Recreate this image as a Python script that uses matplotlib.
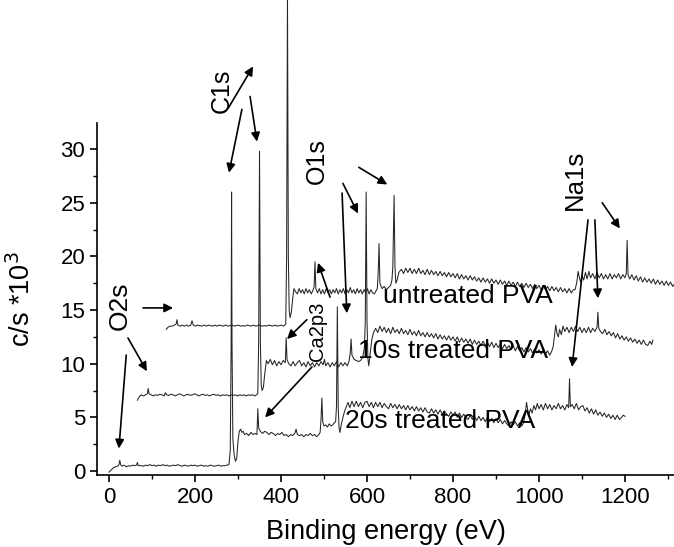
import numpy as np
import matplotlib
matplotlib.use("Agg")
import matplotlib.pyplot as plt
from matplotlib.ticker import MultipleLocator

plt.rcParams['font.family'] = ['Liberation Sans', 'DejaVu Sans']

# XPS survey spectra (binding energy in eV, counts in c/s * 10^3),
# each sample is plotted with its own offset along both axes
spec_20s = [
    (0, -0.1), (5, 0.1), (10, 0.3), (15, 0.4), (20, 0.45), (23, 0.6), (25, 1.0), (27, 0.6),
    (30, 0.45), (35, 0.55), (40, 0.4), (45, 0.5), (50, 0.45), (55, 0.55), (60, 0.5), (64, 0.55),
    (66, 0.8), (68, 0.5), (75, 0.5), (80, 0.45), (85, 0.55), (90, 0.5), (95, 0.6), (100, 0.5),
    (105, 0.55), (110, 0.45), (115, 0.55), (120, 0.5), (125, 0.6), (130, 0.5), (135, 0.55),
    (140, 0.45), (145, 0.5), (150, 0.55), (155, 0.5), (160, 0.6), (165, 0.5), (170, 0.45),
    (175, 0.55), (180, 0.5), (185, 0.45), (190, 0.55), (195, 0.5), (200, 0.55), (205, 0.45),
    (210, 0.5), (215, 0.55), (220, 0.45), (225, 0.5), (230, 0.45), (235, 0.55), (240, 0.5),
    (245, 0.45), (250, 0.5), (255, 0.55), (260, 0.45), (265, 0.5), (270, 0.5), (275, 0.55),
    (279, 0.6), (282, 2.0), (284, 12.0), (285, 26.0), (286, 12.0), (288, 3.0), (291, 1.5),
    (294, 0.9), (297, 1.2), (300, 2.8), (303, 3.7), (306, 3.9), (309, 3.6), (312, 3.7),
    (315, 3.4), (320, 3.5), (325, 3.3), (330, 3.6), (335, 3.4), (340, 3.5), (344, 3.4),
    (346, 5.8), (348, 4.0), (352, 3.7), (357, 3.5), (362, 3.7), (367, 3.6), (372, 3.4),
    (377, 3.6), (382, 3.5), (387, 3.3), (392, 3.5), (397, 3.4), (402, 3.6), (407, 3.3),
    (412, 3.4), (417, 3.2), (422, 3.4), (427, 3.3), (432, 3.5), (435, 3.9), (438, 3.4),
    (443, 3.3), (448, 3.4), (453, 3.2), (458, 3.4), (463, 3.3), (468, 3.5), (473, 3.3),
    (478, 3.4), (483, 3.2), (488, 3.4), (491, 3.6), (493, 4.8), (495, 6.8), (497, 4.6),
    (500, 4.2), (504, 4.3), (508, 4.1), (512, 4.4), (516, 4.2), (520, 4.3), (524, 4.5),
    (527, 4.6), (529, 6.0), (531, 15.3), (533, 6.0), (535, 4.0), (537, 3.6), (540, 4.3),
    (544, 5.0), (548, 5.6), (552, 6.0), (556, 6.4), (560, 5.9), (565, 6.5), (570, 6.0),
    (575, 6.5), (580, 6.0), (585, 6.4), (590, 5.9), (595, 6.4), (600, 6.5), (605, 6.0),
    (610, 6.4), (615, 5.9), (620, 6.4), (625, 6.0), (630, 6.4), (635, 5.9), (640, 6.3),
    (645, 6.0), (650, 5.8), (655, 6.3), (660, 5.9), (665, 6.2), (670, 5.8), (675, 6.2),
    (680, 5.8), (685, 6.1), (690, 5.7), (695, 6.1), (700, 5.7), (705, 6.0), (710, 5.6),
    (715, 6.0), (720, 5.6), (725, 5.9), (730, 5.5), (735, 5.9), (740, 5.5), (745, 5.4),
    (750, 5.8), (755, 5.4), (760, 5.7), (765, 5.3), (770, 5.7), (775, 5.3), (780, 5.6),
    (785, 5.3), (790, 5.1), (795, 5.5), (800, 5.2), (805, 5.5), (810, 5.0), (815, 5.4),
    (820, 5.0), (825, 5.3), (830, 5.0), (835, 4.8), (840, 5.2), (845, 4.8), (850, 5.1),
    (855, 4.7), (860, 5.1), (865, 4.7), (870, 5.0), (875, 4.6), (880, 5.0), (885, 4.6),
    (890, 4.9), (895, 4.5), (900, 4.9), (905, 4.5), (910, 4.8), (915, 4.4), (920, 4.7),
    (925, 4.4), (930, 4.2), (935, 4.6), (940, 4.3), (945, 4.6), (950, 4.2), (955, 4.5),
    (960, 4.2), (964, 4.5), (968, 5.3), (971, 6.4), (974, 5.6), (977, 5.3), (980, 5.8),
    (984, 5.4), (988, 6.1), (992, 5.7), (996, 6.3), (1000, 5.8), (1005, 6.2), (1010, 5.7),
    (1015, 6.3), (1020, 5.8), (1025, 6.2), (1030, 5.7), (1035, 6.1), (1040, 5.8), (1045, 6.3),
    (1050, 5.8), (1055, 6.1), (1060, 5.7), (1065, 6.2), (1069, 5.9), (1071, 8.6), (1073, 6.0),
    (1077, 6.2), (1082, 5.8), (1087, 6.3), (1092, 5.7), (1097, 6.0), (1102, 6.1), (1107, 5.6),
    (1112, 5.9), (1117, 5.4), (1122, 5.8), (1127, 5.3), (1132, 5.7), (1137, 5.2), (1142, 5.5),
    (1147, 5.1), (1152, 5.4), (1157, 5.0), (1162, 5.3), (1167, 4.9), (1172, 5.2), (1177, 4.8),
    (1182, 5.2), (1187, 4.8), (1192, 5.0), (1196, 5.2), (1200, 5.1),
]

spec_10s = [
    (66, 6.6), (70, 6.9), (75, 7.1), (80, 7.0), (85, 7.1), (89, 7.2), (91, 7.7), (93, 7.2),
    (98, 7.1), (103, 7.0), (108, 7.1), (113, 7.05), (118, 7.15), (123, 7.1), (128, 7.0),
    (131, 7.3), (134, 7.1), (139, 7.05), (144, 7.15), (149, 7.1), (154, 7.0), (159, 7.1),
    (164, 7.2), (169, 7.1), (174, 7.0), (179, 7.1), (184, 7.15), (189, 7.05), (194, 7.1),
    (199, 7.2), (204, 7.1), (209, 7.0), (214, 7.1), (219, 7.15), (224, 7.05), (229, 7.1),
    (234, 7.0), (239, 7.1), (244, 7.15), (249, 7.05), (254, 7.1), (259, 7.0), (264, 7.1),
    (269, 7.05), (274, 7.1), (279, 7.0), (284, 7.1), (289, 7.05), (294, 7.1), (299, 7.0),
    (304, 7.1), (309, 7.05), (314, 7.1), (319, 7.0), (324, 7.1), (329, 7.05), (334, 7.1),
    (339, 7.0), (343, 7.1), (346, 7.2), (348, 12.0), (350, 29.8), (352, 12.0), (354, 8.0),
    (356, 7.5), (359, 7.8), (362, 9.0), (366, 10.3), (370, 10.0), (375, 10.4), (380, 9.9),
    (385, 10.3), (390, 9.8), (395, 10.2), (400, 9.9), (405, 10.3), (410, 10.1), (412, 12.4),
    (414, 10.4), (418, 10.0), (423, 9.8), (428, 10.2), (433, 9.8), (438, 10.1), (443, 10.3),
    (448, 9.8), (453, 10.1), (458, 9.7), (463, 10.2), (468, 9.8), (473, 10.1), (478, 9.7),
    (483, 10.1), (488, 9.8), (493, 10.2), (498, 9.9), (501, 10.4), (504, 9.8), (509, 10.1),
    (514, 9.7), (519, 10.1), (524, 9.8), (529, 10.2), (534, 9.7), (539, 10.1), (544, 9.8),
    (549, 10.1), (554, 9.8), (558, 10.2), (561, 11.0), (563, 12.3), (565, 10.8), (570, 10.4),
    (575, 10.3), (580, 10.2), (585, 10.3), (590, 10.6), (594, 11.5), (596, 14.0), (598, 26.0),
    (600, 14.0), (602, 10.5), (604, 9.8), (607, 10.8), (611, 12.2), (615, 12.9), (620, 13.3),
    (625, 12.9), (630, 13.5), (635, 13.0), (640, 13.4), (645, 12.9), (650, 13.3), (655, 12.8),
    (660, 13.4), (665, 12.9), (670, 13.2), (675, 12.8), (680, 13.3), (685, 12.8), (690, 13.1),
    (695, 12.7), (700, 13.2), (705, 12.7), (710, 13.0), (715, 12.6), (720, 13.1), (725, 12.6),
    (730, 12.9), (735, 12.5), (740, 12.9), (745, 12.5), (750, 12.8), (755, 12.4), (760, 12.8),
    (765, 12.3), (770, 12.7), (775, 12.3), (780, 12.6), (785, 12.2), (790, 12.6), (795, 12.2),
    (800, 12.5), (805, 12.1), (810, 12.5), (815, 12.0), (820, 12.4), (825, 12.0), (830, 12.3),
    (835, 11.9), (840, 12.3), (845, 11.8), (850, 12.2), (855, 11.8), (860, 12.1), (865, 11.7),
    (870, 12.1), (875, 11.7), (880, 12.0), (885, 11.6), (890, 12.0), (895, 11.5), (900, 11.9),
    (905, 11.5), (910, 11.8), (915, 11.4), (920, 11.8), (925, 11.4), (930, 11.7), (935, 11.3),
    (940, 11.7), (945, 11.2), (950, 11.6), (955, 11.2), (960, 11.5), (965, 11.1), (970, 11.5),
    (975, 11.1), (980, 11.4), (985, 11.0), (990, 11.4), (995, 11.0), (1000, 11.3), (1005, 10.9),
    (1010, 11.3), (1015, 10.9), (1020, 11.2), (1025, 10.8), (1030, 11.2), (1033, 11.6),
    (1036, 12.6), (1039, 13.6), (1042, 12.8), (1045, 12.5), (1048, 13.2), (1052, 12.7),
    (1056, 13.5), (1060, 13.0), (1065, 13.4), (1070, 12.9), (1075, 13.4), (1080, 13.0),
    (1085, 13.5), (1090, 13.0), (1095, 13.4), (1100, 12.9), (1105, 13.3), (1110, 12.9),
    (1115, 13.4), (1120, 12.9), (1125, 13.3), (1130, 13.0), (1135, 13.4), (1137, 14.8),
    (1139, 13.3), (1143, 13.0), (1148, 12.8), (1153, 13.2), (1158, 12.7), (1163, 13.0),
    (1168, 12.6), (1173, 12.9), (1178, 12.4), (1183, 12.8), (1188, 12.3), (1193, 12.6),
    (1198, 12.2), (1203, 12.5), (1208, 12.1), (1213, 12.4), (1218, 12.0), (1223, 12.3),
    (1228, 11.9), (1233, 12.2), (1238, 11.8), (1243, 12.2), (1248, 11.8), (1253, 11.7),
    (1258, 12.1), (1262, 11.8), (1265, 12.2),
]

spec_untreated = [
    (133, 13.2), (137, 13.4), (142, 13.5), (147, 13.5), (152, 13.6), (156, 13.7), (158, 14.1),
    (160, 13.6), (165, 13.5), (170, 13.6), (175, 13.5), (180, 13.6), (185, 13.5), (190, 13.6),
    (193, 14.0), (196, 13.6), (201, 13.5), (206, 13.6), (211, 13.55), (216, 13.5), (221, 13.6),
    (226, 13.5), (231, 13.6), (236, 13.55), (241, 13.5), (246, 13.6), (251, 13.5), (256, 13.6),
    (261, 13.55), (266, 13.5), (271, 13.6), (276, 13.5), (281, 13.55), (286, 13.6), (291, 13.5),
    (296, 13.55), (301, 13.6), (306, 13.5), (311, 13.55), (316, 13.5), (321, 13.6), (326, 13.55),
    (331, 13.5), (336, 13.6), (341, 13.5), (346, 13.55), (351, 13.6), (356, 13.5), (361, 13.55),
    (366, 13.5), (371, 13.6), (376, 13.55), (381, 13.5), (386, 13.6), (391, 13.5), (396, 13.55),
    (401, 13.6), (406, 13.5), (411, 13.7), (413, 20.0), (415, 44.5), (417, 20.0), (419, 15.0),
    (421, 14.3), (424, 14.8), (427, 16.0), (430, 17.0), (434, 16.7), (438, 16.5), (442, 17.0),
    (446, 16.6), (450, 16.9), (454, 16.5), (458, 17.0), (462, 16.6), (466, 16.9), (470, 16.5),
    (474, 16.8), (477, 17.2), (479, 19.5), (481, 17.0), (485, 16.6), (489, 17.0), (493, 16.5),
    (497, 16.9), (501, 16.5), (505, 17.0), (509, 16.6), (513, 16.9), (517, 16.5), (521, 16.9),
    (525, 16.6), (529, 17.0), (533, 16.5), (537, 16.9), (541, 16.6), (545, 17.0), (549, 16.5),
    (553, 16.9), (557, 16.6), (561, 17.1), (565, 16.6), (569, 16.9), (573, 16.5), (577, 17.0),
    (581, 16.6), (585, 16.9), (589, 16.5), (593, 16.9), (597, 16.6), (601, 17.0), (605, 16.5),
    (609, 16.9), (613, 16.6), (617, 16.5), (621, 16.8), (624, 17.0), (626, 18.5), (628, 21.2),
    (630, 17.5), (635, 17.0), (640, 17.2), (645, 16.9), (650, 17.1), (655, 17.3), (658, 17.8),
    (660, 19.0), (663, 25.7), (665, 19.0), (667, 17.5), (670, 17.8), (674, 18.5), (680, 18.8),
    (685, 18.4), (690, 18.9), (695, 18.5), (700, 18.9), (705, 18.4), (710, 18.8), (715, 18.4),
    (720, 18.9), (725, 18.4), (730, 18.7), (735, 18.3), (740, 18.8), (745, 18.3), (750, 18.7),
    (755, 18.3), (760, 18.6), (765, 18.2), (770, 18.6), (775, 18.2), (780, 18.5), (785, 18.1),
    (790, 18.5), (795, 18.1), (800, 18.4), (805, 18.0), (810, 18.4), (815, 17.9), (820, 18.3),
    (825, 17.9), (830, 18.2), (835, 17.8), (840, 18.2), (845, 17.8), (850, 18.1), (855, 17.7),
    (860, 18.0), (865, 17.6), (870, 18.0), (875, 17.6), (880, 17.9), (885, 17.5), (890, 17.9),
    (895, 17.5), (900, 17.8), (905, 17.4), (910, 17.8), (915, 17.4), (920, 17.7), (925, 17.3),
    (930, 17.7), (935, 17.3), (940, 17.6), (945, 17.2), (950, 17.6), (955, 17.2), (960, 17.5),
    (965, 17.1), (970, 17.5), (975, 17.1), (980, 17.4), (985, 17.0), (990, 17.4), (995, 17.0),
    (1000, 17.3), (1005, 16.9), (1010, 17.3), (1015, 16.9), (1020, 17.2), (1025, 16.8),
    (1030, 17.2), (1035, 16.8), (1040, 17.1), (1045, 16.7), (1050, 17.1), (1055, 16.7),
    (1060, 17.0), (1065, 16.6), (1070, 17.0), (1075, 16.6), (1080, 16.9), (1084, 16.9),
    (1088, 17.6), (1091, 18.6), (1094, 18.0), (1097, 17.6), (1100, 18.2), (1104, 17.8),
    (1108, 18.5), (1112, 17.9), (1116, 18.6), (1120, 18.0), (1125, 18.4), (1130, 17.9),
    (1135, 18.5), (1140, 18.0), (1145, 18.4), (1150, 17.9), (1155, 18.3), (1160, 17.9),
    (1165, 18.4), (1170, 17.9), (1175, 18.3), (1180, 18.0), (1185, 18.4), (1190, 17.9),
    (1195, 18.3), (1200, 18.0), (1203, 18.4), (1205, 21.5), (1207, 18.3), (1211, 17.9),
    (1216, 18.3), (1221, 17.8), (1226, 18.2), (1231, 17.7), (1236, 18.1), (1241, 17.6),
    (1246, 18.0), (1251, 17.6), (1256, 17.9), (1261, 17.5), (1266, 17.9), (1271, 17.4),
    (1276, 17.8), (1281, 17.4), (1286, 17.7), (1291, 17.3), (1296, 17.7), (1301, 17.3),
    (1306, 17.6), (1311, 17.2), (1316, 17.5),
]

# sample labels: (text, x, y)
sample_labels = [
    ("untreated PVA", 835, 16.3),
    ("10s treated PVA", 800, 11.2),
    ("20s treated PVA", 770, 4.66),
]

# peak labels: (text, x, y, fontsize)
peak_labels = [
    ("C1s", 263, 35.4, 18),
    ("O1s", 484, 28.9, 18),
    ("O2s", 26, 15.4, 19),
    ("Na1s", 1084, 27.1, 18.5),
    ("Ca2p3", 486, 13.0, 14.5),
]

# arrows: (tail x, tail y, head x, head y)
arrows = [
    (79, 15.2, 149, 15.2), (44, 12.4, 88, 9.3), (40, 10.8, 23, 2.1),
    (277, 33.8, 335, 37.7), (309, 33.7, 279, 27.8), (328, 34.9, 344, 30.7),
    (581, 28.3, 647, 26.7), (544, 26.8, 579, 24.0), (542, 25.9, 553, 14.7),
    (514, 16.2, 486, 19.4), (460, 14.1, 414, 12.3), (472, 9.7, 363, 5.0),
    (1147, 25.0, 1188, 22.6), (1130, 23.4, 1137, 16.1), (1114, 23.4, 1077, 9.7),
]

fig = plt.figure(figsize=(6.74, 5.47), dpi=100)
ax = fig.add_axes([97 / 674, 72 / 547, 577 / 674, 352 / 547])

for spec in (spec_20s, spec_10s, spec_untreated):
    e, c = np.array(spec).T
    ax.plot(e, c, color='#262626', lw=0.75, clip_on=False)

for text, x, y in sample_labels:
    ax.text(x, y, text, fontsize=19, ha='center', va='center')

for text, x, y, fs in peak_labels:
    ax.text(x, y, text, fontsize=fs, rotation=90, ha='center', va='center',
            clip_on=False)

for x0, y0, x1, y1 in arrows:
    ax.annotate('', xy=(x1, y1), xytext=(x0, y0), annotation_clip=False,
                arrowprops=dict(arrowstyle='-|>', color='k', lw=1.2,
                                mutation_scale=13, shrinkA=0, shrinkB=0))

ax.set_xlim(-28, 1314)
ax.set_ylim(-0.37, 32.43)
ax.xaxis.set_major_locator(MultipleLocator(200))
ax.xaxis.set_minor_locator(MultipleLocator(100))
ax.yaxis.set_major_locator(MultipleLocator(5))
ax.yaxis.set_minor_locator(MultipleLocator(2.5))
ax.tick_params(which='major', direction='out', length=5, width=1.2, labelsize=16)
ax.tick_params(which='minor', direction='out', length=3, width=1.0)
ax.spines['top'].set_visible(False)
ax.spines['right'].set_visible(False)
for s in ('left', 'bottom'):
    ax.spines[s].set_linewidth(1.2)

ax.set_xlabel('Binding energy (eV)', fontsize=19.5)
ax.xaxis.set_label_coords(0.5, -0.125)
ax.set_ylabel('c/s *10$^3$', fontsize=19.5)
ax.yaxis.set_label_coords(-0.105, 0.5)

fig.savefig('out.png', dpi=100)
